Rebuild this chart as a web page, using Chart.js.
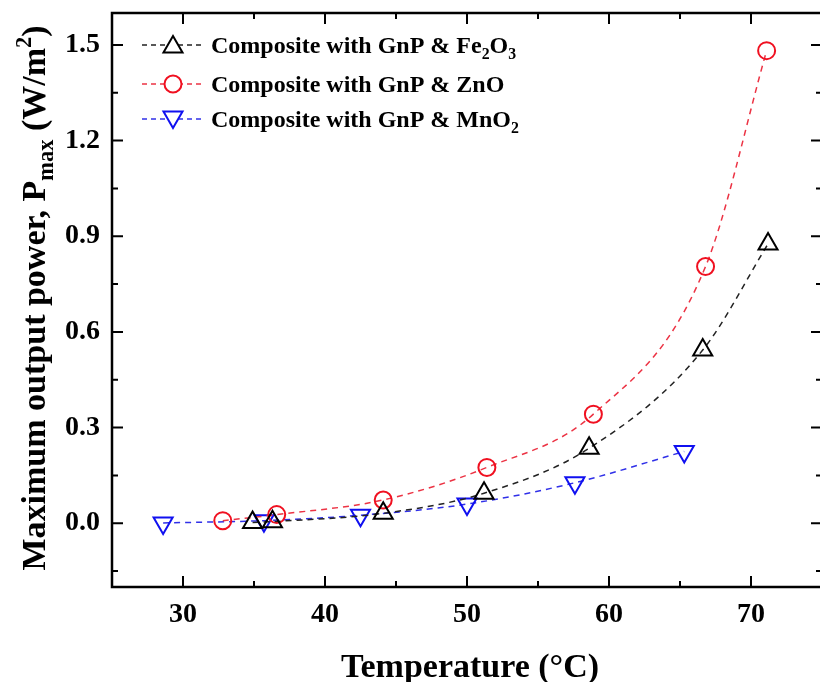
<!DOCTYPE html>
<html lang="en">
<head>
<meta charset="UTF-8" />
<title>Maximum output power vs temperature</title>
<style>
  html, body { margin: 0; padding: 0; background: #fff; overflow: hidden; }
  #wrap { width: 835px; height: 682px; }
</style>
</head>
<body>
<div id="wrap"><canvas id="powerChart" width="835" height="682"></canvas></div>

<script src="https://cdn.jsdelivr.net/npm/chart.js"></script>
<script>
// values (temperature in °C, power in W/m2)
const tempFe = [34.9, 36.3, 44.1, 51.2, 58.6, 66.6, 71.2];
const powerFe = [0.002, 0.005, 0.031, 0.094, 0.235, 0.543, 0.876];
const tempZn = [32.8, 36.6, 44.1, 51.4, 58.9, 66.8, 71.1];
const powerZn = [0.008, 0.027, 0.073, 0.175, 0.342, 0.805, 1.482];
const tempMn = [28.6, 35.7, 42.5, 50.0, 57.6, 65.3];
const powerMn = [0.001, 0.008, 0.025, 0.06, 0.127, 0.225];

const seriesNames = [
  "Composite with GnP & Fe_{2}O_{3}",
  "Composite with GnP & ZnO",
  "Composite with GnP & MnO_{2}",
];
const xTitle = "Temperature (°C)";
const yTitle = "Maximum output power, P_{max} (W/m^{2})";

const xTicks = [30, 40, 50, 60, 70];
const xMinorTicks = [25, 35, 45, 55, 65, 75];
const yTicks = [0.0, 0.3, 0.6, 0.9, 1.2, 1.5];
const yMinorTicks = [-0.15, 0.15, 0.45, 0.75, 1.05, 1.35];

const FONT = '"Liberation Serif", "Times New Roman", serif';

function toPoints(xs, ys) {
  return xs.map((x, i) => ({ x: x, y: ys[i] }));
}

// small helper for sub/superscripts: _{..} and ^{..}
function parseRich(str) {
  const parts = [];
  const re = /([_^])\{([^}]*)\}/g;
  let last = 0, m;
  while ((m = re.exec(str))) {
    if (m.index > last) parts.push({ t: str.slice(last, m.index), k: "n" });
    parts.push({ t: m[2], k: m[1] === "_" ? "sub" : "sup" });
    last = re.lastIndex;
  }
  if (last < str.length) parts.push({ t: str.slice(last), k: "n" });
  return parts;
}

function richWidth(ctx, str, size) {
  let w = 0;
  parseRich(str).forEach((p) => {
    ctx.font = "bold " + (p.k === "n" ? size : size * 0.66) + "px " + FONT;
    w += ctx.measureText(p.t).width;
  });
  return w;
}

function drawRich(ctx, str, x, y, size) {
  let cx = x;
  ctx.textAlign = "left";
  ctx.textBaseline = "alphabetic";
  parseRich(str).forEach((p) => {
    const s = p.k === "n" ? size : size * 0.66;
    ctx.font = "bold " + s + "px " + FONT;
    const dy = p.k === "sub" ? size * 0.24 : p.k === "sup" ? -size * 0.4 : 0;
    ctx.fillText(p.t, cx, y + dy);
    cx += ctx.measureText(p.t).width;
  });
}

const styles = [
  { line: "#222222", mark: "#000000", shape: "triangle", rot: 0, r: 11 },
  { line: "#ec3344", mark: "#f01020", shape: "circle", rot: 0, r: 8.5 },
  { line: "#3030e8", mark: "#1010f0", shape: "triangle", rot: 180, r: 11 },
];

const framePlugin = {
  id: "frame",
  afterDraw(chart) {
    const ctx = chart.ctx;
    const a = chart.chartArea;
    const xs = chart.scales.x;
    const ys = chart.scales.y;
    ctx.save();
    ctx.strokeStyle = "#000";
    ctx.lineWidth = 2.5;
    ctx.strokeRect(a.left, a.top, a.right - a.left, a.bottom - a.top);

    ctx.lineWidth = 2;
    ctx.beginPath();
    const tickX = (vals, len) => {
      vals.forEach((v) => {
        const px = xs.getPixelForValue(v);
        ctx.moveTo(px, a.bottom); ctx.lineTo(px, a.bottom - len);
        ctx.moveTo(px, a.top); ctx.lineTo(px, a.top + len);
      });
    };
    const tickY = (vals, len) => {
      vals.forEach((v) => {
        const py = ys.getPixelForValue(v);
        ctx.moveTo(a.left, py); ctx.lineTo(a.left + len, py);
        ctx.moveTo(a.right, py); ctx.lineTo(a.right - len, py);
      });
    };
    tickX(xTicks, 11);
    tickX(xMinorTicks, 6);
    tickY(yTicks, 11);
    tickY(yMinorTicks, 6);
    ctx.stroke();

    // axis titles
    ctx.fillStyle = "#000";
    const xw = richWidth(ctx, xTitle, 34);
    drawRich(ctx, xTitle, 470 - xw / 2, 677, 34);

    ctx.translate(45, 298);
    ctx.rotate(-Math.PI / 2);
    const yw = richWidth(ctx, yTitle, 34);
    drawRich(ctx, yTitle, -yw / 2, 0, 34);
    ctx.restore();

    // legend
    ctx.save();
    const rows = [45, 84, 119];
    chart.data.datasets.forEach((ds, i) => {
      const st = styles[i];
      const y = rows[i];
      ctx.strokeStyle = st.line;
      ctx.lineWidth = 1.5;
      ctx.setLineDash([5, 4]);
      ctx.beginPath();
      ctx.moveTo(142, y); ctx.lineTo(204, y);
      ctx.stroke();
      ctx.setLineDash([]);
      ctx.fillStyle = "#fff";
      ctx.strokeStyle = st.mark;
      ctx.lineWidth = 2;
      Chart.helpers.drawPoint(ctx, { pointStyle: st.shape, rotation: st.rot, radius: st.r, borderWidth: 2 }, 173, y + (st.shape === "triangle" ? (st.rot ? -2 : 2) : 0));
      ctx.fillStyle = "#000";
      drawRich(ctx, seriesNames[i], 211, y + 8, 24);
    });
    ctx.restore();
  },
};

const datasets = [
  [tempFe, powerFe],
  [tempZn, powerZn],
  [tempMn, powerMn],
].map((d, i) => ({
  label: seriesNames[i],
  data: toPoints(d[0], d[1]),
  showLine: true,
  borderColor: styles[i].line,
  borderWidth: 1.5,
  borderDash: [6, 5],
  cubicInterpolationMode: "monotone",
  pointStyle: styles[i].shape,
  rotation: styles[i].rot,
  pointRadius: styles[i].r,
  pointBorderWidth: 2,
  pointBorderColor: styles[i].mark,
  pointBackgroundColor: "rgba(255,255,255,0)",
}));

new Chart(document.getElementById("powerChart").getContext("2d"), {
  type: "scatter",
  data: { datasets: datasets },
  options: {
    responsive: false,
    animation: false,
    layout: { padding: { left: 0, right: 8, top: 11, bottom: 0 } },
    plugins: { legend: { display: false }, tooltip: { enabled: false } },
    scales: {
      x: {
        type: "linear",
        min: 25,
        max: 75,
        grid: { display: false, drawTicks: false },
        border: { display: false },
        afterBuildTicks: (s) => { s.ticks = xTicks.map((v) => ({ value: v })); },
        afterFit: (s) => { s.height = 95; s.paddingLeft = 0; s.paddingRight = 0; },
        ticks: {
          padding: 11,
          color: "#000",
          font: { family: FONT, weight: "bold", size: 28 },
          maxRotation: 0,
        },
      },
      y: {
        type: "linear",
        min: -0.2,
        max: 1.6,
        grid: { display: false, drawTicks: false },
        border: { display: false },
        afterBuildTicks: (s) => { s.ticks = yTicks.map((v) => ({ value: v })); },
        afterFit: (s) => { s.width = 112; s.paddingTop = 0; s.paddingBottom = 0; },
        ticks: {
          padding: 12,
          color: "#000",
          font: { family: FONT, weight: "bold", size: 28 },
          callback: (v) => Number(v).toFixed(1),
        },
      },
    },
  },
  plugins: [framePlugin],
});
</script>
</body>
</html>
